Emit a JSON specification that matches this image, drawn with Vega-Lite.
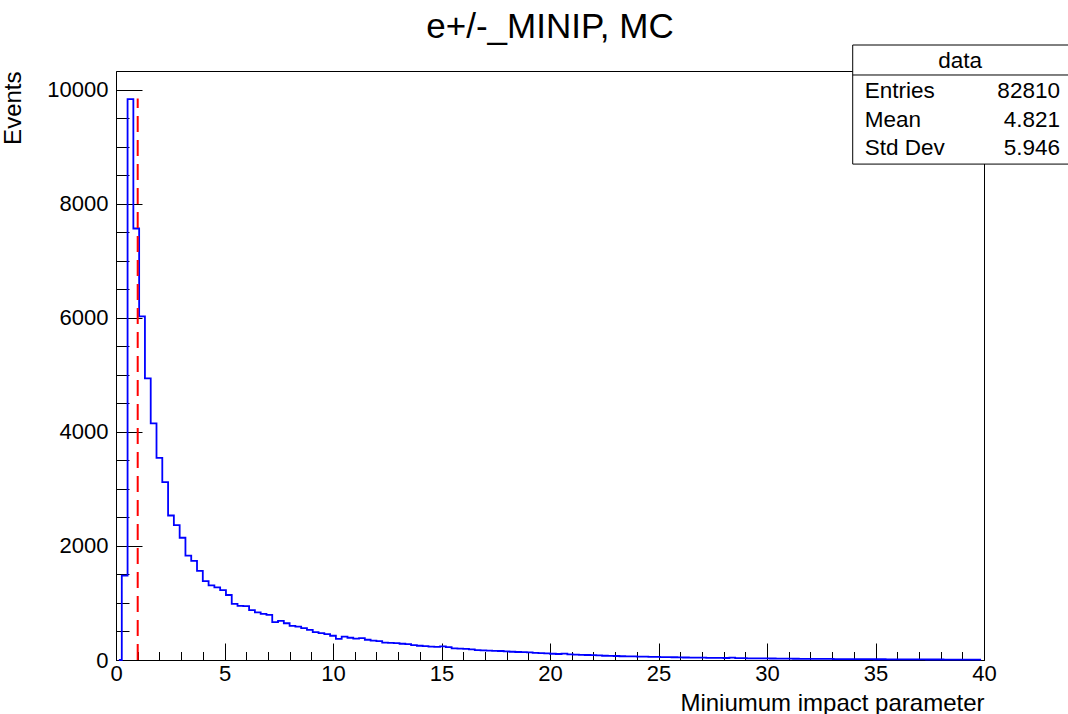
{
  "$schema": "https://vega.github.io/schema/vega-lite/v6.json",
  "width": 868,
  "height": 589,
  "autosize": "none",
  "padding": {"left": 116, "top": 71, "right": 84, "bottom": 54},
  "background": "white",
  "config": {
    "view": {"stroke": "black", "strokeWidth": 1},
    "font": "Liberation Sans"
  },
  "title": {
    "text": "e+/-_MINIP, MC",
    "font": "Liberation Sans",
    "fontSize": 35,
    "fontWeight": "normal",
    "color": "black",
    "anchor": "middle",
    "offset": 0
  },
  "datasets": {
    "hist": [
      {"x": 0.1333, "events": 0}, {"x": 0.4, "events": 1480}, {"x": 0.6667, "events": 9840},
      {"x": 0.9333, "events": 7570}, {"x": 1.2, "events": 6030}, {"x": 1.4667, "events": 4940},
      {"x": 1.7333, "events": 4150}, {"x": 2.0, "events": 3545}, {"x": 2.2667, "events": 3120},
      {"x": 2.5333, "events": 2535}, {"x": 2.8, "events": 2365}, {"x": 3.0667, "events": 2145},
      {"x": 3.3333, "events": 1830}, {"x": 3.6, "events": 1740}, {"x": 3.8667, "events": 1565},
      {"x": 4.1333, "events": 1385}, {"x": 4.4, "events": 1310}, {"x": 4.6667, "events": 1275},
      {"x": 4.9333, "events": 1225}, {"x": 5.2, "events": 1140}, {"x": 5.4667, "events": 985},
      {"x": 5.7333, "events": 950}, {"x": 6.0, "events": 945}, {"x": 6.2667, "events": 875},
      {"x": 6.5333, "events": 835}, {"x": 6.8, "events": 810}, {"x": 7.0667, "events": 790},
      {"x": 7.3333, "events": 665}, {"x": 7.6, "events": 685}, {"x": 7.8667, "events": 645},
      {"x": 8.1333, "events": 600}, {"x": 8.4, "events": 585}, {"x": 8.6667, "events": 560},
      {"x": 8.9333, "events": 530}, {"x": 9.2, "events": 490}, {"x": 9.4667, "events": 470},
      {"x": 9.7333, "events": 455}, {"x": 10.0, "events": 425}, {"x": 10.2667, "events": 370},
      {"x": 10.5333, "events": 410}, {"x": 10.8, "events": 390}, {"x": 11.0667, "events": 375},
      {"x": 11.3333, "events": 385}, {"x": 11.6, "events": 355}, {"x": 11.8667, "events": 340},
      {"x": 12.1333, "events": 330}, {"x": 12.4, "events": 305}, {"x": 12.6667, "events": 300},
      {"x": 12.9333, "events": 295}, {"x": 13.2, "events": 285}, {"x": 13.4667, "events": 280},
      {"x": 13.7333, "events": 260}, {"x": 14.0, "events": 250}, {"x": 14.2667, "events": 245},
      {"x": 14.5333, "events": 235}, {"x": 14.8, "events": 230}, {"x": 15.0667, "events": 240},
      {"x": 15.3333, "events": 225}, {"x": 15.6, "events": 205}, {"x": 15.8667, "events": 200},
      {"x": 16.1333, "events": 195}, {"x": 16.4, "events": 185}, {"x": 16.6667, "events": 175},
      {"x": 16.9333, "events": 170}, {"x": 17.2, "events": 165}, {"x": 17.4667, "events": 160},
      {"x": 17.7333, "events": 158}, {"x": 18.0, "events": 150}, {"x": 18.2667, "events": 145},
      {"x": 18.5333, "events": 140}, {"x": 18.8, "events": 138}, {"x": 19.0667, "events": 133},
      {"x": 19.3333, "events": 125}, {"x": 19.6, "events": 120}, {"x": 19.8667, "events": 115},
      {"x": 20.1333, "events": 110}, {"x": 20.4, "events": 105}, {"x": 20.6667, "events": 112},
      {"x": 20.9333, "events": 100}, {"x": 21.2, "events": 95}, {"x": 21.4667, "events": 90},
      {"x": 21.7333, "events": 88}, {"x": 22.0, "events": 85}, {"x": 22.2667, "events": 80},
      {"x": 22.5333, "events": 75}, {"x": 22.8, "events": 72}, {"x": 23.0667, "events": 70},
      {"x": 23.3333, "events": 66}, {"x": 23.6, "events": 64}, {"x": 23.8667, "events": 62},
      {"x": 24.1333, "events": 60}, {"x": 24.4, "events": 58}, {"x": 24.6667, "events": 55},
      {"x": 24.9333, "events": 55}, {"x": 25.2, "events": 52}, {"x": 25.4667, "events": 50},
      {"x": 25.7333, "events": 48}, {"x": 26.0, "events": 46}, {"x": 26.2667, "events": 44},
      {"x": 26.5333, "events": 43}, {"x": 26.8, "events": 42}, {"x": 27.0667, "events": 40},
      {"x": 27.3333, "events": 38}, {"x": 27.6, "events": 37}, {"x": 27.8667, "events": 36},
      {"x": 28.1333, "events": 35}, {"x": 28.4, "events": 40}, {"x": 28.6667, "events": 33},
      {"x": 28.9333, "events": 32}, {"x": 29.2, "events": 30}, {"x": 29.4667, "events": 29},
      {"x": 29.7333, "events": 28}, {"x": 30.0, "events": 27}, {"x": 30.2667, "events": 26},
      {"x": 30.5333, "events": 25}, {"x": 30.8, "events": 24}, {"x": 31.0667, "events": 23},
      {"x": 31.3333, "events": 22}, {"x": 31.6, "events": 21}, {"x": 31.8667, "events": 20},
      {"x": 32.1333, "events": 20}, {"x": 32.4, "events": 19}, {"x": 32.6667, "events": 18},
      {"x": 32.9333, "events": 18}, {"x": 33.2, "events": 17}, {"x": 33.4667, "events": 16},
      {"x": 33.7333, "events": 16}, {"x": 34.0, "events": 15}, {"x": 34.2667, "events": 15},
      {"x": 34.5333, "events": 14}, {"x": 34.8, "events": 14}, {"x": 35.0667, "events": 13},
      {"x": 35.3333, "events": 13}, {"x": 35.6, "events": 12}, {"x": 35.8667, "events": 12},
      {"x": 36.1333, "events": 11}, {"x": 36.4, "events": 11}, {"x": 36.6667, "events": 10},
      {"x": 36.9333, "events": 10}, {"x": 37.2, "events": 10}, {"x": 37.4667, "events": 9},
      {"x": 37.7333, "events": 9}, {"x": 38.0, "events": 9}, {"x": 38.2667, "events": 8},
      {"x": 38.5333, "events": 8}, {"x": 38.8, "events": 8}, {"x": 39.0667, "events": 7},
      {"x": 39.3333, "events": 7}, {"x": 39.6, "events": 7}, {"x": 39.8667, "events": 6}
    ]
  },
  "layer": [
    {
      "data": {"name": "hist"},
      "mark": {"type": "line", "interpolate": "step", "color": "#0000ff", "strokeWidth": 1.8},
      "encoding": {
        "x": {
          "field": "x",
          "type": "quantitative",
          "scale": {"domain": [0, 40], "nice": false, "zero": false},
          "axis": {
            "tickCount": 40,
            "labelExpr": "datum.value % 5 === 0 ? datum.label : ''",
            "format": "d",
            "tickSize": {"condition": {"test": "datum.value % 5 === 0", "value": -17}, "value": -8.5},
            "tickColor": "black",
            "tickWidth": 1,
            "domainColor": "black",
            "grid": false,
            "labelFont": "Liberation Sans",
            "labelFontSize": 22,
            "labelColor": "black",
            "labelPadding": 20,
            "labelFlush": false,
            "labelOverlap": false,
            "labelBound": false,
            "title": "Miniumum impact parameter",
            "titleFont": "Liberation Sans",
            "titleFontSize": 24,
            "titleFontWeight": "normal",
            "titleColor": "black",
            "titleAnchor": "end",
            "titleAlign": "right",
            "titleBaseline": "alphabetic",
            "titleX": 868,
            "titleY": 50
          }
        },
        "y": {
          "field": "events",
          "type": "quantitative",
          "scale": {"domain": [0, 10333], "nice": false},
          "axis": {
            "tickCount": 21,
            "labelExpr": "datum.value % 2000 === 0 ? datum.label : ''",
            "format": "d",
            "tickSize": {"condition": {"test": "datum.value % 2000 === 0", "value": -26}, "value": -13},
            "tickColor": "black",
            "tickWidth": 1,
            "domainColor": "black",
            "grid": false,
            "labelFont": "Liberation Sans",
            "labelFontSize": 22,
            "labelColor": "black",
            "labelPadding": 34,
            "labelFlush": false,
            "labelOverlap": false,
            "labelBound": false,
            "title": "Events",
            "titleFont": "Liberation Sans",
            "titleFontSize": 24,
            "titleFontWeight": "normal",
            "titleColor": "black",
            "titleAngle": -90,
            "titleAlign": "right",
            "titleBaseline": "alphabetic",
            "titleX": -96,
            "titleY": 0
          }
        }
      }
    },
    {
      "data": {"values": [{}]},
      "mark": {"type": "rule", "color": "#ff0000", "strokeWidth": 2, "strokeDash": [16, 8]},
      "encoding": {
        "x": {"datum": 1.0, "type": "quantitative"},
        "y": {"datum": 0, "type": "quantitative"},
        "y2": {"datum": 9850}
      }
    },
    {
      "data": {"values": [{}]},
      "mark": {"type": "rect", "fill": "white", "stroke": "black", "strokeWidth": 1},
      "encoding": {
        "x": {"datum": 33.95, "type": "quantitative"},
        "x2": {"datum": 43.9},
        "y": {"datum": 10789, "type": "quantitative"},
        "y2": {"datum": 8700}
      }
    },
    {
      "data": {"values": [{}]},
      "mark": {"type": "rule", "color": "black", "strokeWidth": 1},
      "encoding": {
        "x": {"datum": 33.95, "type": "quantitative"},
        "x2": {"datum": 43.9},
        "y": {"datum": 10263, "type": "quantitative"}
      }
    },
    {
      "data": {"values": [{}]},
      "mark": {"type": "text", "text": "data", "font": "Liberation Sans", "fontSize": 22.5, "align": "center", "baseline": "middle", "color": "black"},
      "encoding": {
        "x": {"datum": 38.9, "type": "quantitative"},
        "y": {"datum": 10514, "type": "quantitative"}
      }
    },
    {
      "data": {"values": [{}]},
      "mark": {"type": "text", "text": "Entries", "font": "Liberation Sans", "fontSize": 22.5, "align": "left", "baseline": "middle", "color": "black"},
      "encoding": {
        "x": {"datum": 34.5, "type": "quantitative"},
        "y": {"datum": 9990, "type": "quantitative"}
      }
    },
    {
      "data": {"values": [{}]},
      "mark": {"type": "text", "text": "Mean", "font": "Liberation Sans", "fontSize": 22.5, "align": "left", "baseline": "middle", "color": "black"},
      "encoding": {
        "x": {"datum": 34.5, "type": "quantitative"},
        "y": {"datum": 9480, "type": "quantitative"}
      }
    },
    {
      "data": {"values": [{}]},
      "mark": {"type": "text", "text": "Std Dev", "font": "Liberation Sans", "fontSize": 22.5, "align": "left", "baseline": "middle", "color": "black"},
      "encoding": {
        "x": {"datum": 34.5, "type": "quantitative"},
        "y": {"datum": 8982, "type": "quantitative"}
      }
    },
    {
      "data": {"values": [{}]},
      "mark": {"type": "text", "text": "82810", "font": "Liberation Sans", "fontSize": 22.5, "align": "right", "baseline": "middle", "color": "black"},
      "encoding": {
        "x": {"datum": 43.5, "type": "quantitative"},
        "y": {"datum": 9990, "type": "quantitative"}
      }
    },
    {
      "data": {"values": [{}]},
      "mark": {"type": "text", "text": "4.821", "font": "Liberation Sans", "fontSize": 22.5, "align": "right", "baseline": "middle", "color": "black"},
      "encoding": {
        "x": {"datum": 43.5, "type": "quantitative"},
        "y": {"datum": 9480, "type": "quantitative"}
      }
    },
    {
      "data": {"values": [{}]},
      "mark": {"type": "text", "text": "5.946", "font": "Liberation Sans", "fontSize": 22.5, "align": "right", "baseline": "middle", "color": "black"},
      "encoding": {
        "x": {"datum": 43.5, "type": "quantitative"},
        "y": {"datum": 8982, "type": "quantitative"}
      }
    }
  ]
}
